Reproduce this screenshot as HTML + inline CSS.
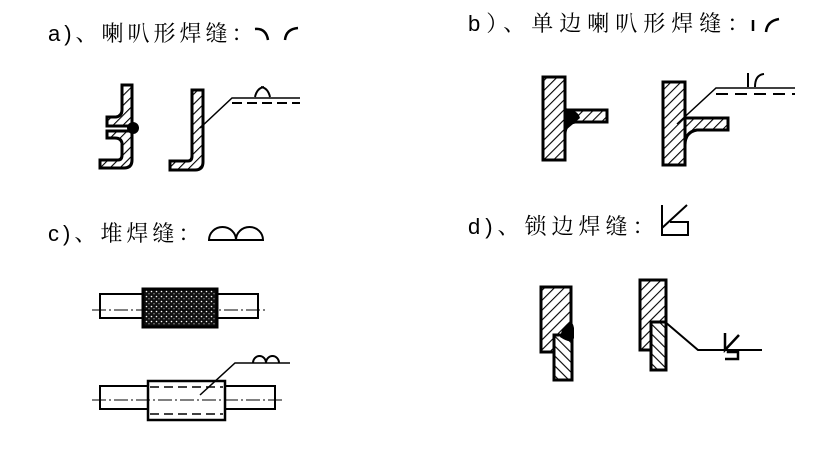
<!DOCTYPE html>
<html><head><meta charset="utf-8"><style>
html,body{margin:0;padding:0;background:#fff;}
svg{display:block;}
text{font-family:"Liberation Sans","Noto Serif CJK SC","Noto Sans CJK SC",serif;font-size:22px;fill:#000;letter-spacing:3px;}
</style></head><body>
<svg width="822" height="450" viewBox="0 0 822 450" xmlns="http://www.w3.org/2000/svg">
<defs>
<pattern id="h" width="7" height="7" patternUnits="userSpaceOnUse" patternTransform="rotate(45)">
<rect width="7" height="7" fill="#fff"/><line x1="0" y1="0" x2="0" y2="7" stroke="#000" stroke-width="2.2"/>
</pattern>
<pattern id="h2" width="7" height="7" patternUnits="userSpaceOnUse" patternTransform="rotate(-45)">
<rect width="7" height="7" fill="#fff"/><line x1="0" y1="0" x2="0" y2="7" stroke="#000" stroke-width="2.2"/>
</pattern>
<pattern id="dots" width="5" height="5" patternUnits="userSpaceOnUse">
<rect width="5" height="5" fill="#111"/><circle cx="1.5" cy="1.5" r="0.8" fill="#fff"/><circle cx="4" cy="3.8" r="0.6" fill="#ccc"/>
</pattern>
</defs>

<!-- titles -->
<text x="48" y="41" style="letter-spacing:4px">a)、喇叭形焊缝：</text>
<path d="M255,29 Q266,28 268,40" fill="none" stroke="#000" stroke-width="2.5"/>
<path d="M285,40 Q286,29 298,28" fill="none" stroke="#000" stroke-width="2.5"/>

<text x="468" y="31" style="letter-spacing:6px">b）、单边喇叭形焊缝：</text>
<line x1="753" y1="20" x2="753" y2="31" stroke="#000" stroke-width="2.5"/>
<path d="M766,32 Q767,21 779,19" fill="none" stroke="#000" stroke-width="2.5"/>

<text x="48" y="241" style="letter-spacing:4px">c)、堆焊缝：</text>
<path d="M209,240 A13.5,13 0 0 1 236,240 A13.5,13 0 0 1 263,240 Z" fill="none" stroke="#000" stroke-width="2"/>

<text x="468" y="234" style="letter-spacing:5px">d)、锁边焊缝：</text>
<path d="M662,205 L662,235 L688,235 L688,222 L670,222 M662,228 L687,205" fill="none" stroke="#000" stroke-width="2"/>

<!-- a) drawings -->
<g stroke="#000" stroke-width="3" fill="url(#h)">
<path d="M122,85 L132,85 L132,126 L107,126 L107,117 L116,117 Q122,116 122,110 Z"/>
<path d="M107,131 L132,131 L132,160 Q132,168 124,168 L100,168 L100,160 L118,160 Q122,160 122,155 L122,143 Q121,138 115,138 L107,138 Z"/>
<path d="M192,90 L203,90 L203,162 Q203,170 195,170 L170,170 L170,161 L188,161 Q192,161 192,156 Z"/>
</g>
<circle cx="133" cy="128" r="6" fill="#000"/>
<polyline points="200,128 232,98 300,98" fill="none" stroke="#000" stroke-width="1.5"/>
<line x1="232" y1="103" x2="300" y2="103" stroke="#000" stroke-width="2" stroke-dasharray="10,5"/>
<path d="M255,97 Q257,88 264,87 M270,97 Q268,88 261,87" fill="none" stroke="#000" stroke-width="2"/>

<!-- b) drawings -->
<g stroke="#000" stroke-width="3" fill="url(#h)">
<rect x="543" y="77" width="22" height="83"/>
<path d="M565,110 L607,110 L607,122 L575,122 Q565,124 565,134 Z"/>
<rect x="663" y="82" width="22" height="83"/>
<path d="M685,118 L728,118 L728,130 L697,130 Q685,132 685,145 Z"/>
</g>
<path d="M565,108 Q578,110 580,118 L566,130 Z" fill="#000"/>
<polyline points="677,124 716,88 795,88" fill="none" stroke="#000" stroke-width="1.5"/>
<line x1="716" y1="94" x2="795" y2="94" stroke="#000" stroke-width="2" stroke-dasharray="12,7"/>
<line x1="748" y1="73" x2="748" y2="87" stroke="#000" stroke-width="2"/>
<path d="M755,87 Q755,75 764,74" fill="none" stroke="#000" stroke-width="2"/>

<!-- c) drawings -->
<rect x="100" y="294" width="158" height="24" fill="#fff" stroke="#000" stroke-width="2"/>
<rect x="143" y="289" width="74" height="38" fill="url(#dots)" stroke="#000" stroke-width="3"/>
<line x1="92" y1="310" x2="268" y2="310" stroke="#000" stroke-width="1" stroke-dasharray="14,3,2,3"/>
<rect x="100" y="386" width="175" height="23" fill="#fff" stroke="#000" stroke-width="2"/>
<rect x="148" y="381" width="77" height="39" fill="#fff" stroke="#000" stroke-width="2.5"/>
<line x1="150" y1="387" x2="223" y2="387" stroke="#000" stroke-width="1.5" stroke-dasharray="9,5"/>
<line x1="150" y1="414" x2="223" y2="414" stroke="#000" stroke-width="1.5" stroke-dasharray="9,5"/>
<line x1="92" y1="400" x2="282" y2="400" stroke="#000" stroke-width="1" stroke-dasharray="14,3,2,3"/>
<polyline points="200,395 235,363 290,363" fill="none" stroke="#000" stroke-width="1.5"/>
<path d="M253,363 A6.5,7 0 0 1 266,363 A6.5,7 0 0 1 279,363" fill="none" stroke="#000" stroke-width="2"/>

<!-- d) drawings -->
<g stroke="#000" stroke-width="3">
<rect x="541" y="287" width="30" height="65" fill="url(#h)"/>
<rect x="554" y="335" width="18" height="45" fill="url(#h2)"/>
<rect x="640" y="280" width="26" height="70" fill="url(#h)"/>
<rect x="651" y="322" width="15" height="48" fill="url(#h2)"/>
</g>
<path d="M562,330 Q572,316 574,328 L574,338 Q572,345 560,337 Z" fill="#000"/>
<polyline points="664,321 698,350 762,350" fill="none" stroke="#000" stroke-width="2"/>
<path d="M725,333 L725,350 L739,335 M728,350 L728,352 L738,352 L738,359 L725,359" fill="none" stroke="#000" stroke-width="2.5"/>
</svg>
</body></html>
